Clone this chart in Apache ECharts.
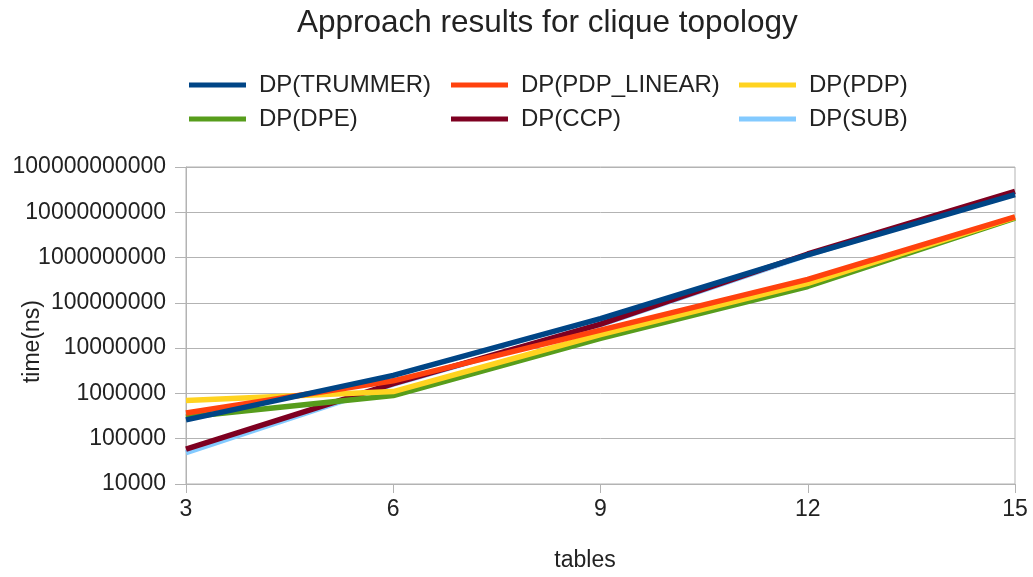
<!DOCTYPE html>
<html>
<head>
<meta charset="utf-8">
<script src="https://cdn.jsdelivr.net/npm/echarts@6/dist/echarts.min.js"></script>
<style>
html,body{margin:0;padding:0;background:#fff;}
#c{width:1033px;height:577px;}
</style>
</head>
<body>
<div id="c"></div>
<script>
const tables = [3, 6, 9, 12, 15];
const seriesNames = ['DP(TRUMMER)', 'DP(PDP_LINEAR)', 'DP(PDP)', 'DP(DPE)', 'DP(CCP)', 'DP(SUB)'];
const trummer   = [2.6e5, 2.5e6, 4.5e7, 1.15e9, 2.45e10];
const pdpLinear = [3.7e5, 1.9e6, 2.5e7, 3.3e8, 7.9e9];
const pdp       = [7.0e5, 1.1e6, 2.0e7, 2.7e8, 7.7e9];
const dpe       = [3.0e5, 9.0e5, 1.65e7, 2.3e8, 7.4e9];
const ccp       = [5.9e4, 1.65e6, 3.4e7, 1.2e9, 2.9e10];
const sub       = [4.9e4, 1.6e6, 3.3e7, 1.15e9, 2.8e10];
const xTicks = [3, 6, 9, 12, 15];

const values = [trummer, pdpLinear, pdp, dpe, ccp, sub];
const colors = ['#004586', '#ff420e', '#ffd320', '#579d1c', '#7e0021', '#83caff'];
const zs = [16, 15, 14, 13, 12, 11];
const FONT = 'Liberation Sans';
const TXT = '#222';

const series = seriesNames.map((n, i) => ({
  name: n,
  type: 'line',
  data: tables.map((x, j) => [x, values[i][j]]),
  showSymbol: false,
  symbol: 'none',
  lineStyle: { width: 5.5, color: colors[i] },
  itemStyle: { color: colors[i] },
  z: zs[i],
  animation: false
}));

const legendPos = [[189, 73], [451, 73], [739, 73], [189, 107], [451, 107], [739, 107]];
const legends = seriesNames.map((n, i) => ({
  data: [n],
  left: legendPos[i][0],
  top: legendPos[i][1],
  padding: 0,
  icon: 'rect',
  itemWidth: 57,
  itemHeight: 5,
  textStyle: { fontFamily: FONT, fontSize: 24, color: TXT, lineHeight: 24, padding: [0, 0, 0, 8] },
  selectedMode: false
}));

const chart = echarts.init(document.getElementById('c'), null, { renderer: 'canvas' });
chart.setOption({
  backgroundColor: '#fff',
  animation: false,
  title: {
    text: 'Approach results for clique topology',
    left: 297, top: 7, padding: 0,
    textStyle: { fontFamily: FONT, fontSize: 31.5, fontWeight: 'normal', color: TXT }
  },
  legend: legends,
  grid: {
    left: 186, right: 18, top: 167, bottom: 93,
    show: true, borderColor: '#b3b3b3', borderWidth: 1
  },
  xAxis: {
    type: 'value', min: 3, max: 15, interval: 3,
    axisLine: { show: true, lineStyle: { color: '#b3b3b3', width: 1 } },
    axisTick: { show: true, length: 9, lineStyle: { color: '#b3b3b3' } },
    splitLine: { show: false },
    axisLabel: {
      fontFamily: FONT, fontSize: 23, color: TXT, margin: 14,
      formatter: v => (xTicks.indexOf(v) >= 0 ? String(v) : '')
    }
  },
  yAxis: {
    type: 'log', logBase: 10, min: 1e4, max: 1e11,
    axisLine: { show: true, lineStyle: { color: '#b3b3b3', width: 1 } },
    axisTick: { show: true, length: 11, lineStyle: { color: '#b3b3b3' } },
    splitLine: { show: true, lineStyle: { color: '#b3b3b3', width: 1 } },
    minorTick: { show: false },
    axisLabel: {
      fontFamily: FONT, fontSize: 23, color: TXT, margin: 20,
      formatter: v => Math.round(v).toFixed(0)
    }
  },
  graphic: [
    { type: 'text', left: 21, top: 300, rotation: Math.PI / 2,
      style: { text: 'time(ns)', font: '23px "Liberation Sans"', fill: TXT } },
    { type: 'text', x: 585, y: 561,
      style: { text: 'tables', font: '23px "Liberation Sans"', fill: TXT, textAlign: 'center', textVerticalAlign: 'middle' } }
  ],
  series: series
});
</script>
</body>
</html>
